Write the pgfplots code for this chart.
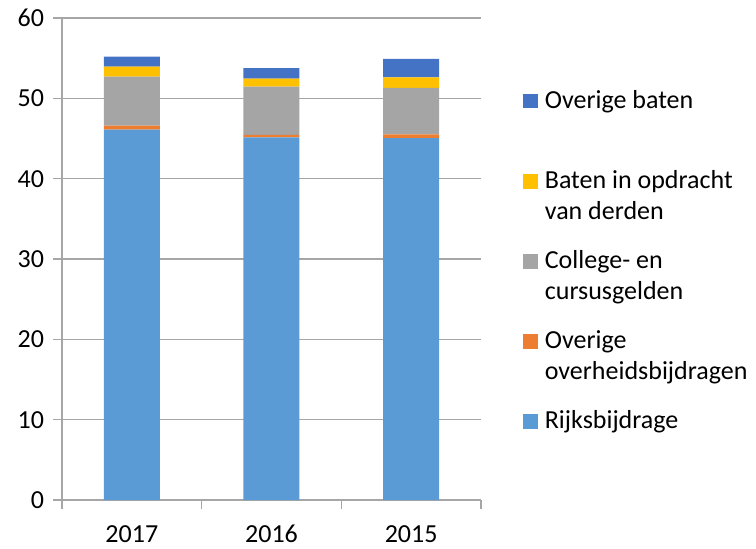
\documentclass[border=0pt]{standalone}
\usepackage{fontspec}
\setmainfont{Carlito}
\usepackage{pgfplots}
\pgfplotsset{compat=1.18}

\definecolor{rijks}{HTML}{5B9BD5}
\definecolor{overh}{HTML}{ED7D31}
\definecolor{college}{HTML}{A5A5A5}
\definecolor{derden}{HTML}{FFC000}
\definecolor{overig}{HTML}{4472C4}
\definecolor{gridc}{HTML}{A6A6A6}

\newcommand{\entry}[2]{\begin{tabular}[t]{@{}l@{}}#1\\#2\end{tabular}}

\begin{document}
\fontsize{13}{15.5}\selectfont
\begin{tikzpicture}
\useasboundingbox (0,0) rectangle (378pt,274pt);
\begin{axis}[
    at={(31pt,24pt)}, anchor=south west,
    scale only axis,
    width=209.5pt, height=241pt,
    ybar stacked, bar width=28pt,
    xmin=-0.5, xmax=2.5, ymin=0, ymax=60,
    ytick={0,10,...,60},
    xtick={-0.5,0.5,1.5,2.5}, xticklabels={},
    extra x ticks={0,1,2}, extra x tick labels={2017,2016,2015},
    extra x tick style={major tick length=0pt,
        xticklabel style={anchor=base, text height=9pt, yshift=-21pt}},
    ymajorgrids,
    grid style={gridc, line width=0.75pt},
    axis x line*=bottom, axis y line*=left,
    axis line style={gridc, line width=0.75pt, -},
    tick style={gridc, line width=0.75pt},
    tick align=outside, major tick length=4.5pt,
    /pgf/number format/assume math mode=true,
    legend style={at={(1.1002,0.8583)}, anchor=north west, draw=none, fill=none,
        inner sep=0pt, row sep=27.25pt, column sep=3.5pt,
        nodes={inner sep=0pt, anchor=base west}},
    legend cell align=left,
    reverse legend,
    legend image code/.code={\fill[#1] (0pt,0pt) rectangle (7.25pt,7.25pt);},
]
\addplot[fill=rijks, draw=none] coordinates {(0,46.1) (1,45.15) (2,45.05)};
\addlegendentry{\entry{Rijksbijdrage}{}}
\addplot[fill=overh, draw=none] coordinates {(0,0.5) (1,0.3) (2,0.45)};
\addlegendentry{\entry{Overige}{overheidsbijdragen}}
\addplot[fill=college, draw=none] coordinates {(0,6.1) (1,6.0) (2,5.8)};
\addlegendentry{\entry{College- en}{cursusgelden}}
\addplot[fill=derden, draw=none] coordinates {(0,1.25) (1,1.0) (2,1.3)};
\addlegendentry{\entry{Baten in opdracht}{van derden}}
\addplot[fill=overig, draw=none] coordinates {(0,1.25) (1,1.3) (2,2.3)};
\addlegendentry{\entry{Overige baten}{\mbox{}}}
\end{axis}
\end{tikzpicture}
\end{document}
